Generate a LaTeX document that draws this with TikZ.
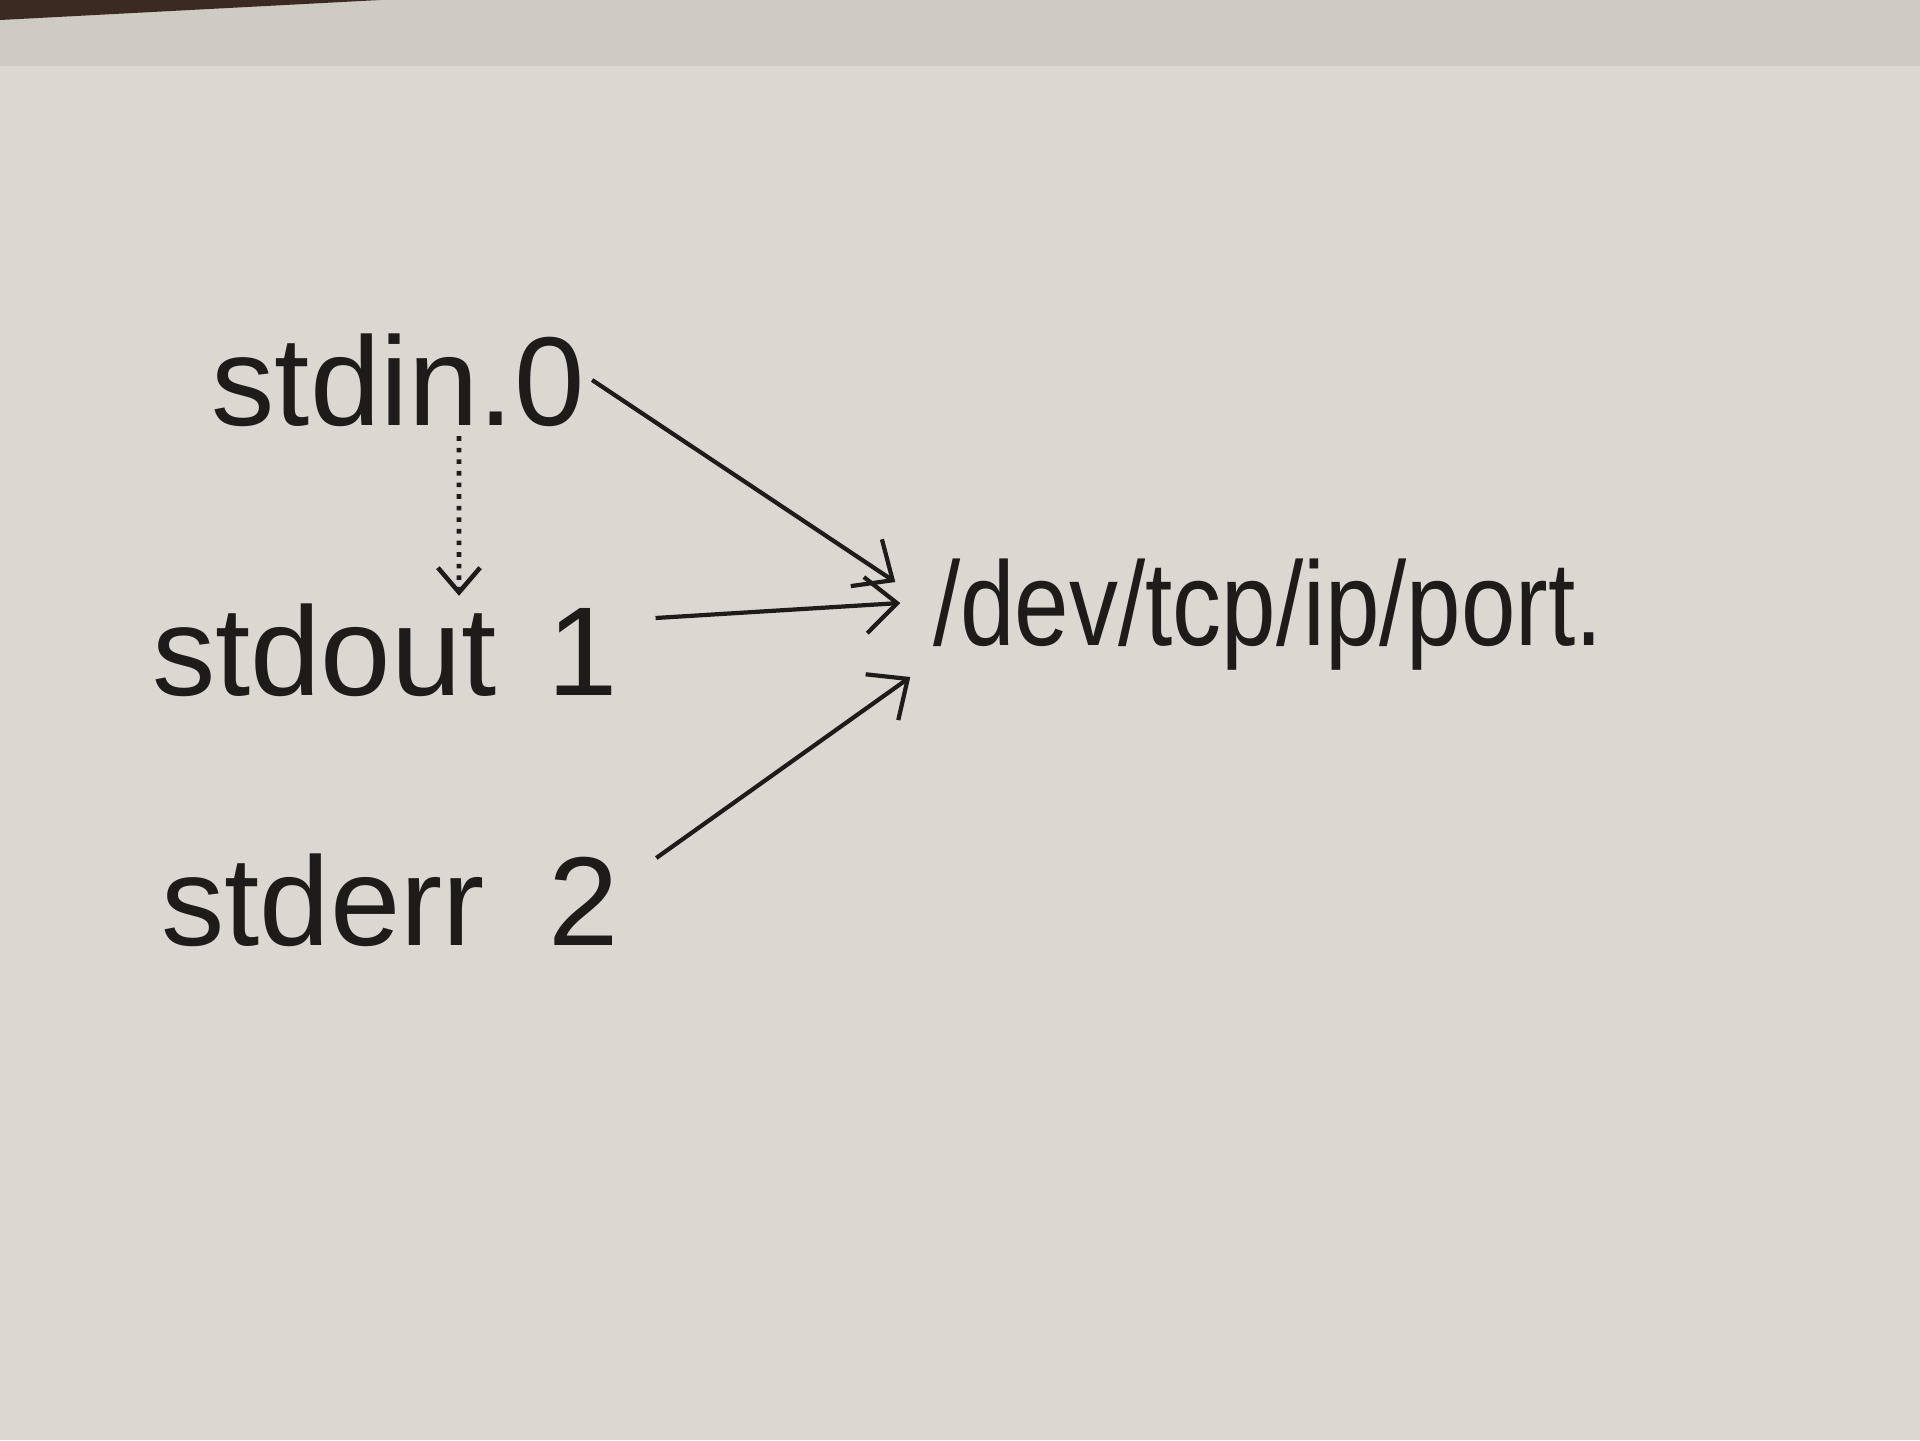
\documentclass[tikz,border=0pt]{standalone}
\usepackage{fontspec}
\setmainfont{Liberation Sans}
\usetikzlibrary{arrows.meta}
\definecolor{paper}{RGB}{219,215,209}
\definecolor{paperband}{RGB}{206,202,196}
\definecolor{ink}{RGB}{30,28,26}
\definecolor{corner}{RGB}{58,42,34}
\tikzset{
  lbl/.style={text=ink, inner sep=2pt, font=\fontsize{36}{40}\selectfont},
  devlbl/.style={text=ink, inner sep=2pt, font=\fontsize{34}{40}\selectfont},
  arr/.style={draw=ink, line width=1.2pt, -{Straight Barb[length=9pt,width=16pt]}},
  dotarr/.style={draw=ink, line width=1.3pt, dotted, -{Straight Barb[length=7pt,width=12pt]}}
}
\begin{document}
\begin{tikzpicture}
  % paper background
  \fill[paper] (0,0) rectangle (19.2,-14.4);
  \useasboundingbox (0,0) rectangle (19.2,-14.4);
  \fill[paperband] (0,0) rectangle (19.2,-0.66);
  \fill[corner] (0,0) -- (3.8,0) -- (0,-0.2) -- cycle;

  % nodes
  \node[lbl] (in)  at (3.98,-3.80) {stdin.0};
  \node[lbl] (out) at (3.85,-6.50) {stdout\hspace{0.4em}1};
  \node[lbl] (err) at (3.90,-9.00) {stderr\hspace{0.5em}2};
  \node[devlbl] (dev) at (12.68,-6.15) {\scalebox{0.82}[1]{/dev/tcp/ip/port.}};

  % connectors
  \draw[arr] (in.east) -- ([xshift=-0.3cm,yshift=0.33cm]dev.west);
  \draw[arr] ([xshift=0.3cm,yshift=0.32cm]out.east) -- ([xshift=-0.25cm,yshift=0.12cm]dev.west);
  \draw[arr] ([xshift=0.3cm,yshift=0.42cm]err.east) -- ([xshift=-0.15cm,yshift=-0.62cm]dev.west);
  \draw[dotarr] ([xshift=0.61cm,yshift=-0.02cm]in.south) -- ([xshift=0.74cm]out.north);
\end{tikzpicture}
\end{document}
